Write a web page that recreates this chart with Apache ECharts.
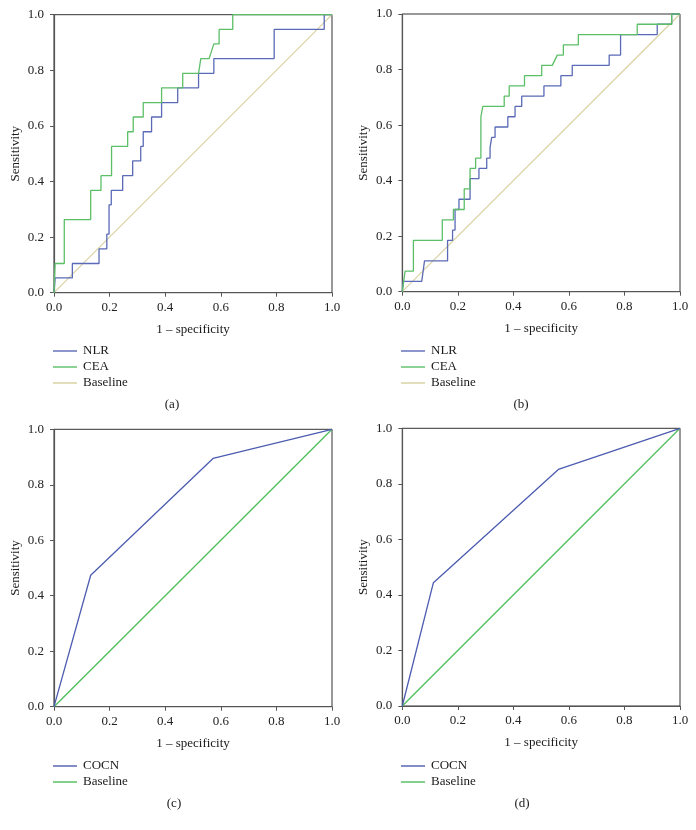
<!DOCTYPE html>
<html>
<head>
<meta charset="utf-8">
<script src="https://cdn.jsdelivr.net/npm/echarts@6/dist/echarts.min.js"></script>
<style>html,body{margin:0;padding:0;background:#fff;}#c{width:696px;height:830px;}</style>
</head>
<body>
<div id="c"></div>
<script>
// ---- Data (x = 1 - specificity, y = sensitivity) ----
const nlrA = [[0,0],[0.004,0.053],[0.066,0.053],[0.066,0.105],[0.162,0.105],[0.162,0.158],[0.19,0.158],[0.19,0.211],[0.198,0.211],[0.198,0.316],[0.206,0.316],[0.206,0.368],[0.247,0.368],[0.247,0.421],[0.283,0.421],[0.283,0.474],[0.312,0.474],[0.312,0.526],[0.321,0.526],[0.321,0.579],[0.351,0.579],[0.351,0.632],[0.387,0.632],[0.387,0.684],[0.445,0.684],[0.445,0.737],[0.52,0.737],[0.52,0.789],[0.575,0.789],[0.575,0.842],[0.792,0.842],[0.792,0.947],[0.972,0.947],[0.972,1],[1,1]];
const ceaA = [[0,0],[0.004,0.105],[0.037,0.105],[0.037,0.263],[0.132,0.263],[0.132,0.368],[0.169,0.368],[0.169,0.421],[0.207,0.421],[0.207,0.526],[0.265,0.526],[0.265,0.579],[0.285,0.579],[0.285,0.632],[0.321,0.632],[0.321,0.684],[0.387,0.684],[0.387,0.737],[0.463,0.737],[0.463,0.789],[0.52,0.789],[0.528,0.842],[0.558,0.842],[0.575,0.895],[0.594,0.895],[0.594,0.947],[0.643,0.947],[0.643,1],[1,1]];
const nlrB = [[0,0],[0.003,0.037],[0.07,0.037],[0.08,0.111],[0.163,0.111],[0.163,0.185],[0.181,0.185],[0.181,0.222],[0.19,0.222],[0.19,0.296],[0.204,0.296],[0.204,0.333],[0.244,0.333],[0.244,0.407],[0.276,0.407],[0.276,0.444],[0.304,0.444],[0.304,0.481],[0.316,0.481],[0.316,0.519],[0.322,0.519],[0.322,0.556],[0.334,0.556],[0.334,0.593],[0.38,0.593],[0.38,0.63],[0.406,0.63],[0.406,0.667],[0.43,0.667],[0.43,0.704],[0.51,0.704],[0.51,0.741],[0.571,0.741],[0.571,0.778],[0.612,0.778],[0.612,0.815],[0.745,0.815],[0.745,0.852],[0.786,0.852],[0.786,0.926],[0.918,0.926],[0.918,0.963],[0.97,0.963],[0.97,1],[1,1]];
const ceaB = [[0,0],[0.01,0.074],[0.04,0.074],[0.04,0.185],[0.144,0.185],[0.144,0.259],[0.184,0.259],[0.184,0.296],[0.223,0.296],[0.223,0.370],[0.244,0.370],[0.244,0.444],[0.264,0.444],[0.264,0.481],[0.283,0.481],[0.283,0.630],[0.29,0.630],[0.29,0.667],[0.367,0.667],[0.367,0.704],[0.385,0.704],[0.385,0.741],[0.44,0.741],[0.44,0.778],[0.502,0.778],[0.502,0.815],[0.54,0.815],[0.558,0.852],[0.58,0.852],[0.58,0.889],[0.634,0.889],[0.634,0.926],[0.846,0.926],[0.846,0.963],[0.97,0.963],[0.97,1],[1,1]];
const cocnC = [[0,0],[0.132,0.474],[0.572,0.895],[1,1]];
const cocnD = [[0,0],[0.112,0.444],[0.562,0.852],[1,1]];
const baseline = [[0,0],[1,1]];
const xTitle = '1 – specificity';
const yTitle = 'Sensitivity';
const captions = ['(a)','(b)','(c)','(d)'];

// ---- Styles ----
const FONT = 'Liberation Serif';
const C_BLUE1 = '#5a6ab6', C_GREEN1 = '#5cbf68', C_BEIGE = '#d6cf9e';
const C_BLUE2 = '#4c5cb0', C_GREEN2 = '#4fbd5a';

const grids = [
  {left:54, top:14.7, width:278, height:278},
  {left:402.3, top:14, width:277.7, height:277.7},
  {left:54, top:429.3, width:278, height:277.4},
  {left:402.3, top:428.3, width:277.7, height:277.7}
];

function xAx(i){return {gridIndex:i,type:'value',min:0,max:1,interval:0.2,
  name:xTitle,nameLocation:'middle',nameGap:30,
  nameTextStyle:{fontFamily:FONT,fontSize:13,color:'#1a1a1a'},
  axisLine:{show:true,lineStyle:{color:'#555',width:1.2}},
  axisTick:{show:true,length:4,lineStyle:{color:'#555'}},
  axisLabel:{fontFamily:FONT,fontSize:13,color:'#222',margin:8,formatter:v=>v.toFixed(1)},
  splitLine:{show:false}};}
function yAx(i){return {gridIndex:i,type:'value',min:0,max:1,interval:0.2,
  name:yTitle,nameLocation:'middle',nameGap:32,nameRotate:90,
  nameTextStyle:{fontFamily:FONT,fontSize:13,color:'#1a1a1a'},
  axisLine:{show:true,lineStyle:{color:'#555',width:1.2}},
  axisTick:{show:true,length:4,lineStyle:{color:'#555'}},
  axisLabel:{fontFamily:FONT,fontSize:13,color:'#222',margin:10,formatter:v=>v.toFixed(1)},
  splitLine:{show:false}};}

function ser(name,data,i,color,w,z){return {name:name,type:'line',data:data,xAxisIndex:i,yAxisIndex:i,
  showSymbol:false,symbol:'none',lineStyle:{color:color,width:w},itemStyle:{color:color},animation:false,z:z};}

const series = [
  ser('Baseline',baseline,0,C_BEIGE,1.1,2), ser('NLR',nlrA,0,C_BLUE1,1.3,3), ser('CEA',ceaA,0,C_GREEN1,1.3,4),
  ser('Baseline',baseline,1,C_BEIGE,1.1,2), ser('NLR',nlrB,1,C_BLUE1,1.3,3), ser('CEA',ceaB,1,C_GREEN1,1.3,4),
  ser('Baseline',baseline,2,C_GREEN2,1.3,2), ser('COCN',cocnC,2,C_BLUE2,1.3,3),
  ser('Baseline',baseline,3,C_GREEN2,1.3,2), ser('COCN',cocnD,3,C_BLUE2,1.3,3)
];

// legends & captions (graphic)
const graphic = [];
function legend(x0,y0,items){
  items.forEach((it,k)=>{
    const y=y0+k*16;
    graphic.push({type:'line',shape:{x1:x0,y1:y,x2:x0+24,y2:y},style:{stroke:it[1],lineWidth:1.4}});
    graphic.push({type:'text',x:x0+30,y:y,style:{text:it[0],font:'13px "'+FONT+'"',fill:'#1a1a1a',textVerticalAlign:'middle',verticalAlign:'middle'}});
  });
}
legend(53,351,[['NLR',C_BLUE1],['CEA',C_GREEN1],['Baseline',C_BEIGE]]);
legend(401,351,[['NLR',C_BLUE1],['CEA',C_GREEN1],['Baseline',C_BEIGE]]);
legend(53,766,[['COCN',C_BLUE2],['Baseline',C_GREEN2]]);
legend(401,766,[['COCN',C_BLUE2],['Baseline',C_GREEN2]]);
[[172,405],[521,405],[174,804],[522,804]].forEach((p,k)=>{
  graphic.push({type:'text',x:p[0],y:p[1],style:{text:captions[k],font:'13px "'+FONT+'"',fill:'#1a1a1a',textAlign:'center',align:'center',textVerticalAlign:'middle',verticalAlign:'middle'}});
});

const chart = echarts.init(document.getElementById('c'),null,{renderer:'canvas'});
chart.setOption({
  animation:false,
  backgroundColor:'#fff',
  grid: grids.map(g=>Object.assign({show:true,borderColor:'#333',borderWidth:1,backgroundColor:'transparent'},g)),
  xAxis:[0,1,2,3].map(xAx),
  yAxis:[0,1,2,3].map(yAx),
  series:series,
  graphic:graphic
});
</script>
</body>
</html>
